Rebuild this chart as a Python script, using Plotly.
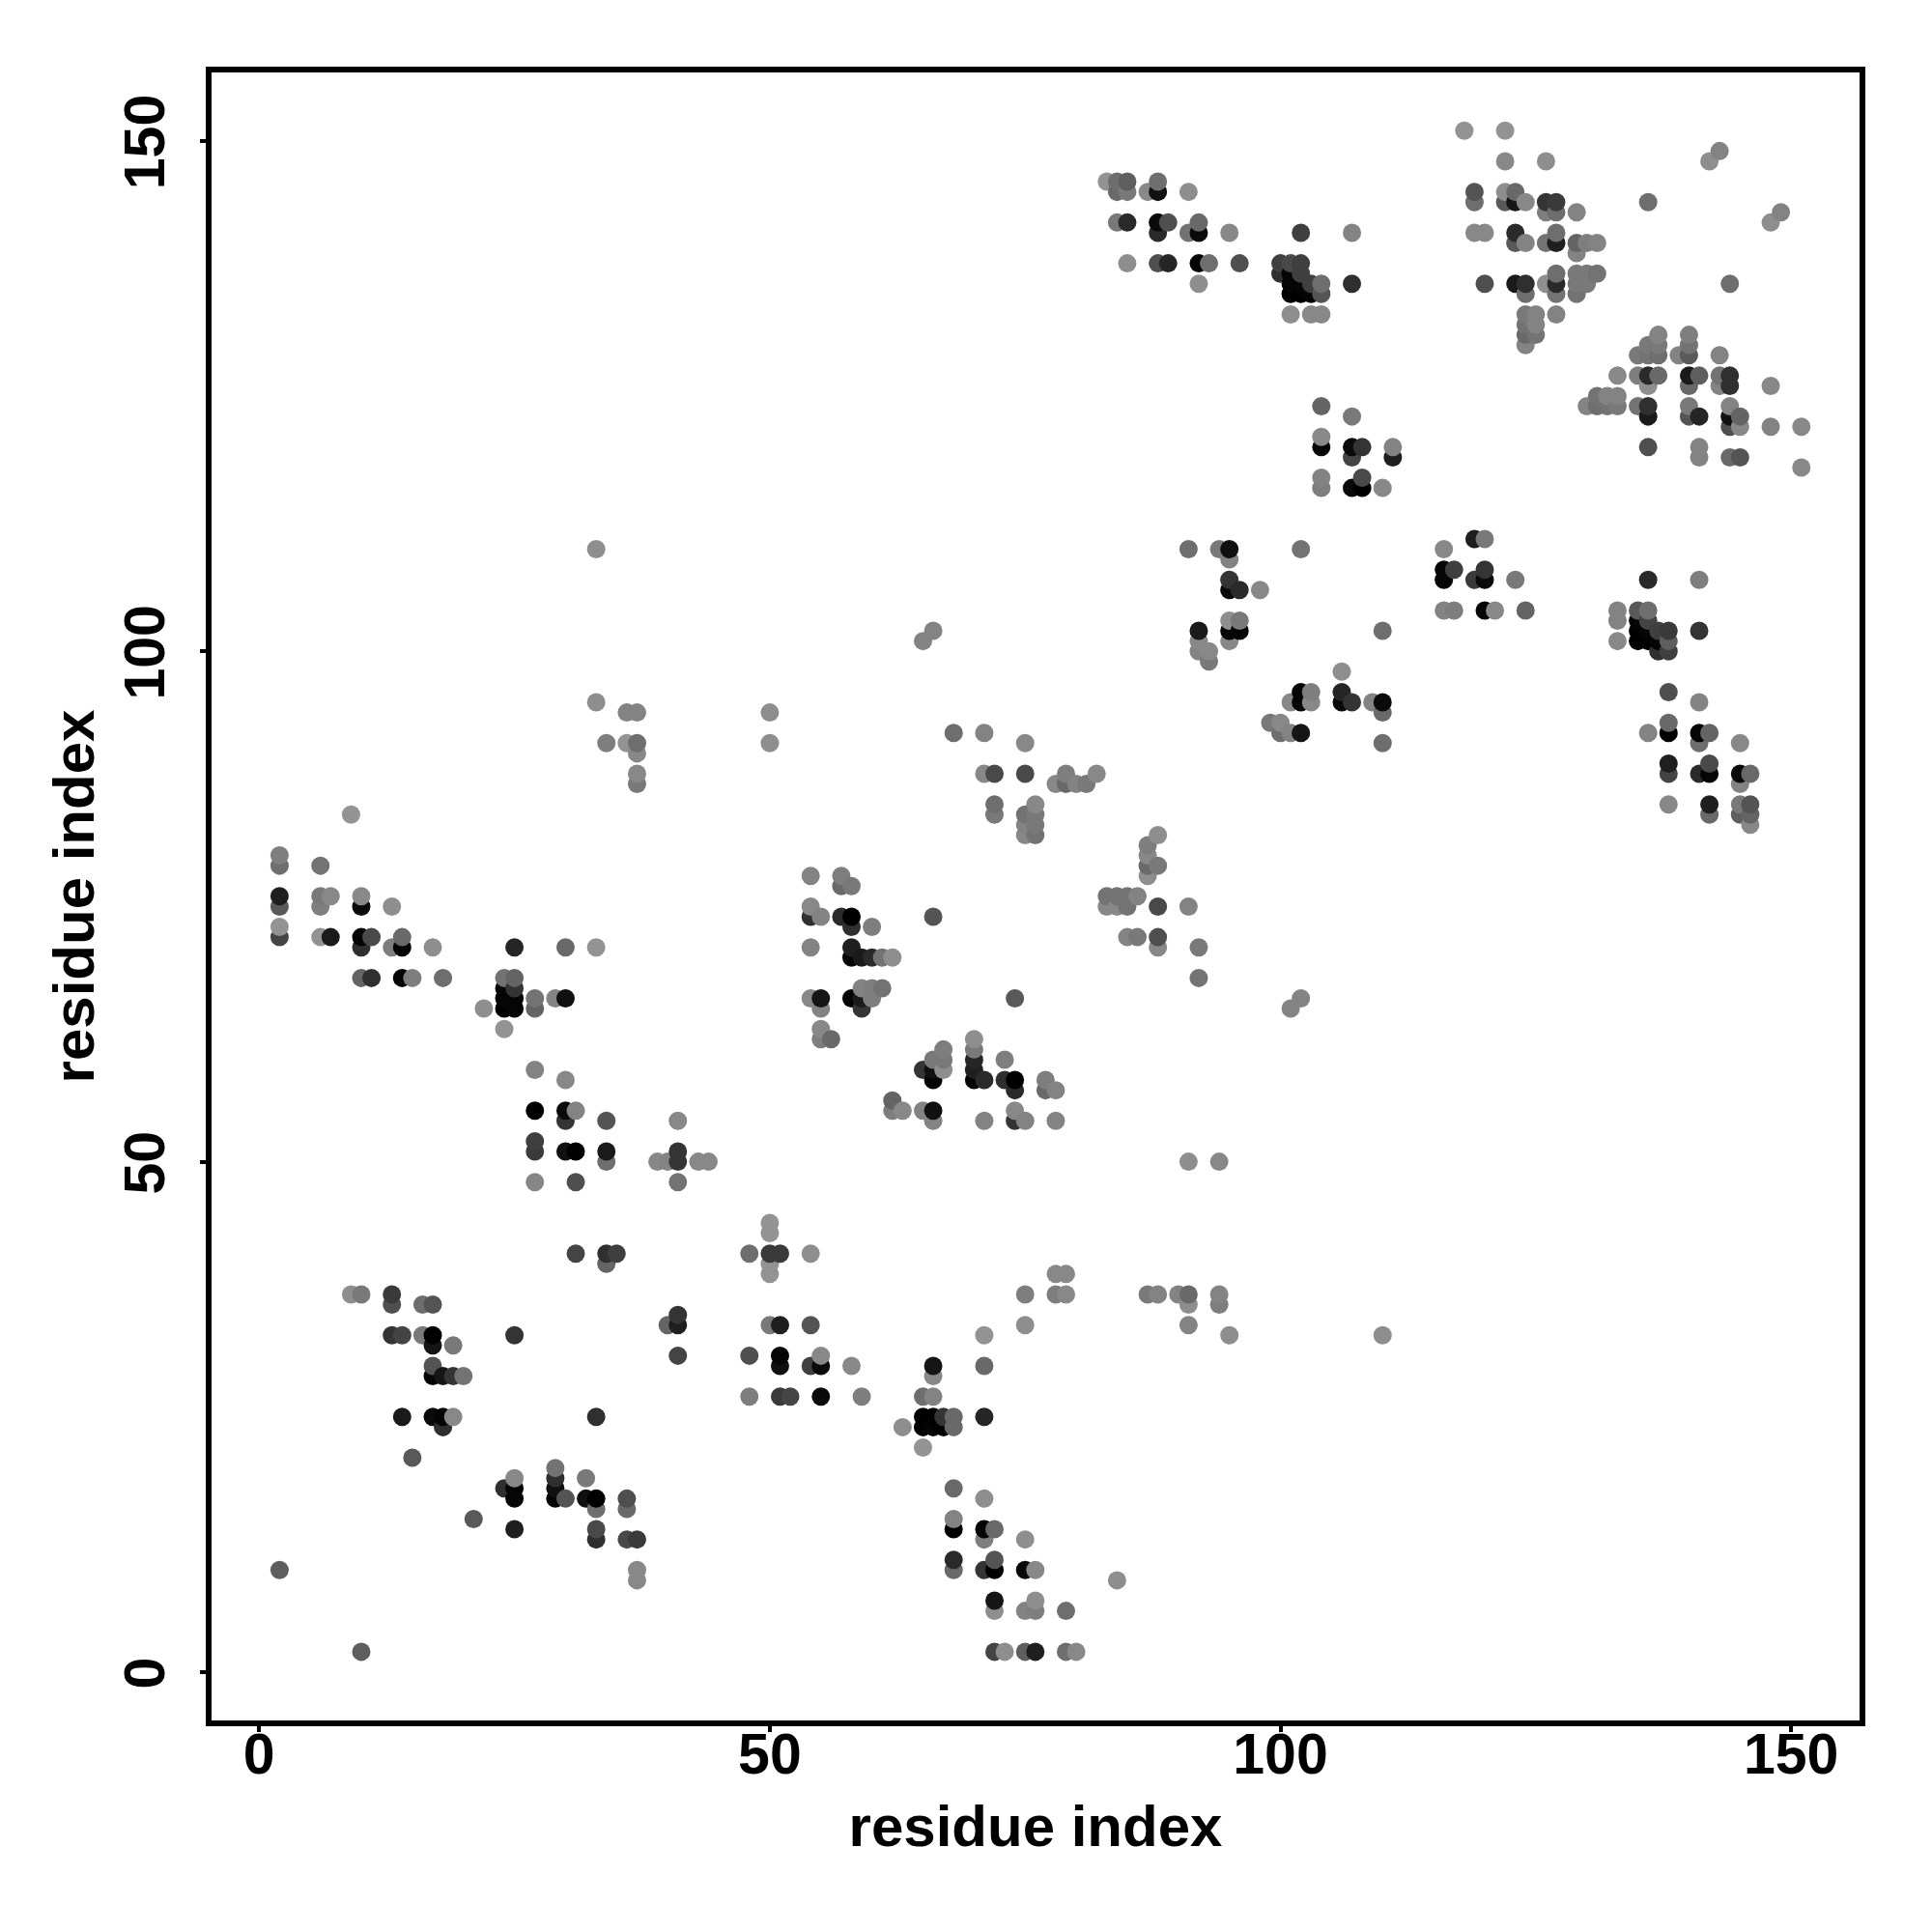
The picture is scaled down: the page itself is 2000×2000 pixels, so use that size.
import plotly.graph_objects as go

# contacts as (residue x, residue y, shade) where shade is a grey level 0-255
low_left = [(9,37,135),(10,37,115),(13,37,55),(13,36,75),(16,36,105),(17,36,80),(13,33,50),(14,33,65),(16,33,115),(17,33,0),(25,33,50),
 (17,32,20),(19,32,115),(17,30,80),(17,29,5),(18,29,20),(19,29,50),(20,29,110),(14,25,25),(17,25,10),(18,25,5),(19,25,130),(33,25,45),(18,24,45),
 (15,21,85),(25,19,130),(29,20,110),(29,19,45),(29,18,15),(29,17,5),(30,17,80),(24,18,45),(25,18,5),(25,17,5),(32,19,115),(32,17,15),(33,17,0),(33,16,105),
 (33,14,70),(33,13,45),(36,17,75),(36,16,100),(36,13,70),(37,13,55),(37,10,130),(37,9,130),(21,15,85),(25,14,30),(2,10,90),(10,2,90)]
mid_low = [(27,48,128),(31,48,75),(41,48,110),(31,41,65),(34,41,45),(35,41,60),(34,40,95),(48,41,105),(50,41,55),(51,41,55),(54,41,135),
 (50,44,140),(50,43,140),(50,40,140),(50,39,140),(41,35,50),(40,34,95),(41,34,30),(41,31,65),(48,31,75),(51,31,5),(51,30,15),(50,34,115),(51,34,30),(54,34,80),
 (54,30,60),(55,31,130),(55,30,10),(58,30,130),(48,27,120),(51,27,55),(52,27,65),(55,27,10),(59,27,120)]
centre_low = [(66,30,20),(66,29,130),(65,27,105),(66,27,125),(65,25,0),(66,25,0),(67,25,50),(68,25,100),(63,24,135),(65,24,0),(66,24,5),(67,24,0),(68,24,100),
 (65,22,140),(71,25,35),(71,30,100),(71,33,140),(75,34,135),(75,37,120),(78,37,120),(79,37,130),(78,39,130),(79,39,130),(87,37,115),(88,37,125),(90,37,125),(91,37,100),
 (91,36,135),(94,37,125),(94,36,120),(91,34,125),(95,33,135),(91,50,135),(94,50,130),(110,33,135)]
bottom = [(68,18,100),(71,17,135),(68,15,125),(68,14,0),(71,14,5),(72,14,100),(71,13,120),(75,13,135),(68,11,40),(68,10,100),(72,11,80),(71,10,50),(72,10,0),(75,10,10),(76,10,130),
 (84,9,135),(72,7,20),(72,6,135),(75,6,125),(76,7,135),(76,6,120),(79,6,105),(72,2,65),(73,2,135),(75,2,90),(76,2,30),(79,2,105),(80,2,130)]
mid_left = [(33,95,135),(36,94,125),(37,94,125),(34,91,120),(36,91,140),(37,91,105),(37,90,130),(37,88,130),(37,87,115),(50,94,135),(50,91,135),(9,84,140),
 (2,80,120),(2,79,105),(6,79,110),(2,76,30),(2,75,85),(6,76,115),(7,76,130),(6,75,120),(10,76,130),(10,75,10),(13,75,135),(2,73,140),(2,72,65),(6,72,140),(7,72,25),
 (10,72,5),(11,72,70),(10,71,45),(13,71,120),(14,72,100),(14,71,5),(17,71,135),(25,71,35),(30,71,100),(33,71,140),(10,68,95),(11,68,45),(14,68,5),(15,68,120),(18,68,105),
 (24,68,110),(25,68,95),(24,67,5),(25,67,50),(24,66,5),(25,66,5),(24,65,0),(25,65,5),(27,66,110),(27,65,95),(22,65,135),(24,63,140),(29,66,125),(30,66,15),
 (27,59,125),(30,58,130),(27,55,0),(30,55,10),(31,55,125),(30,54,50),(34,54,80),(41,54,130),(27,52,60),(27,51,55),(30,51,15),(31,51,0),(34,51,25),(34,50,105),
 (39,50,130),(40,50,125),(41,51,50),(41,50,50),(43,50,130),(44,50,130),(33,110,135)]
mid_right = [(68,92,105),(71,92,125),(75,91,130),(71,88,130),(72,88,70),(75,88,70),(78,87,130),(79,88,120),(79,87,100),(80,87,125),(81,87,115),(82,88,130),
 (72,85,105),(72,84,115),(76,85,130),(75,84,110),(76,84,115),(75,83,125),(76,83,115),(75,82,130),(76,82,110),(88,82,135),(87,81,120),(87,80,130),(87,79,100),(88,79,115),(87,78,135),
 (83,76,110),(84,76,110),(85,76,110),(86,76,125),(83,75,130),(84,75,130),(85,75,110),(88,75,70),(91,75,125),(85,72,125),(86,72,115),(88,72,75),(88,71,130),(92,71,115),(92,68,110),
 (54,78,125),(57,78,120),(57,77,100),(58,77,115),(54,75,130),(54,74,45),(55,74,125),(57,74,40),(58,74,0),(58,73,45),(60,73,120),(66,74,80),
 (54,71,125),(58,71,30),(58,70,5),(59,70,25),(60,70,40),(61,70,110),(62,70,135),(54,66,130),(55,66,20),(55,65,125),(58,66,5),(59,66,25),(59,65,50),(59,67,125),(60,67,120),(61,67,110),(60,66,120),
 (55,63,130),(55,62,120),(56,62,100),(74,66,85),(67,61,120),(66,60,115),(67,60,115),(65,59,50),(66,59,15),(67,59,135),(66,58,5),
 (70,62,135),(70,61,115),(70,60,35),(70,59,30),(70,58,5),(71,58,40),(73,60,120),(73,58,45),(74,58,0),(74,57,40),(77,58,120),(77,57,100),(78,57,125),
 (62,56,95),(62,55,120),(63,55,130),(65,55,125),(66,55,15),(66,54,125),(71,54,125),(74,55,130),(74,54,50),(75,54,125),(78,54,125),(65,101,125),(66,102,125),(101,65,125),(102,66,125)]
upper_mid = [(83,146,140),(84,146,105),(85,146,90),(84,145,100),(85,145,115),(87,145,130),(88,146,105),(88,145,15),(91,145,135),(84,142,115),(85,142,40),(88,142,10),(89,142,75),(88,141,40),
 (91,141,110),(92,142,100),(92,141,10),(95,141,130),(102,141,60),(107,141,125),(85,138,135),(88,138,75),(89,138,35),(92,138,5),(93,138,105),(96,138,75),(92,136,135),
 (100,138,60),(101,138,70),(102,138,60),(100,137,45),(101,137,5),(102,137,60),(101,136,5),(102,136,5),(103,136,60),(104,136,105),(101,135,0),(102,135,0),(103,135,5),(104,135,80),(107,136,45),
 (101,133,135),(103,133,130),(104,133,130),(104,124,95),(107,123,115),(104,121,130),(104,120,5),(107,120,10),(108,120,50),(107,119,65),(111,120,125),(111,119,30),
 (104,117,125),(104,116,120),(108,117,70),(107,116,10),(108,116,0),(110,116,130)]
top_right = [(118,151,140),(122,151,140),(122,148,130),(126,148,135),(143,149,125),(142,148,135),(149,143,125),(148,142,135),(119,145,80),(119,144,105),(122,145,135),(123,145,100),(122,144,85),(123,144,20),(124,144,130),
 (126,144,50),(127,144,55),(126,143,120),(127,143,105),(129,143,125),(136,144,105),(119,141,130),(120,141,130),(123,141,40),(123,140,85),(124,140,125),(126,140,110),(127,141,105),(127,140,30),(129,140,95),(130,140,120),(131,140,125),(129,139,125),
 (120,136,75),(123,136,25),(124,136,45),(124,135,105),(126,136,135),(127,137,105),(127,136,40),(127,135,110),(127,133,125),(129,137,115),(130,137,115),(131,137,110),(129,136,115),(130,136,115),(129,135,110),(144,136,105),
 (124,133,115),(125,133,125),(124,132,110),(125,132,125),(124,131,100),(125,131,110),(124,130,125),
 (137,131,125),(136,130,115),(137,130,115),(135,129,115),(136,129,110),(137,129,105),(140,131,120),(140,130,110),(139,129,125),(140,129,85),(143,129,125),
 (133,127,130),(135,127,120),(136,127,40),(137,127,100),(136,126,135),(140,127,25),(141,127,90),(140,126,100),(143,127,110),(144,127,45),(143,126,125),(144,126,45),(148,126,130),
 (130,124,125),(131,125,110),(132,125,125),(133,125,125),(131,124,105),(132,124,110),(133,124,115),(135,124,110),(136,124,45),(136,123,25),
 (140,124,115),(140,123,80),(141,123,35),(144,124,125),(144,123,15),(145,123,95),(144,122,75),(145,122,130),(148,122,125),(151,122,130),
 (136,120,75),(141,120,125),(141,119,125),(144,119,100),(145,119,80),(151,118,130)]
centre_right = [(91,110,105),(94,110,115),(95,110,15),(95,109,125),(102,110,110),(95,107,50),(95,106,10),(96,106,40),(98,106,130),(95,103,135),(96,103,115),(92,102,25),(95,102,5),(96,102,5),(95,101,130),(92,101,130),
 (92,100,125),(93,100,130),(93,99,115),(110,102,105),(106,98,135),(102,96,5),(103,96,120),(101,95,130),(102,95,5),(103,95,130),(106,96,35),(106,95,10),(107,95,50),(109,95,125),(110,95,10),(110,94,100),(110,91,105),
 (99,93,115),(100,93,130),(100,92,105),(101,92,125),(102,92,20),(116,110,130),(119,111,30),(120,111,115),(116,108,5),(117,108,60),(116,107,5),(119,107,55),(120,108,50),(120,107,10),(123,107,115),
 (116,104,125),(117,104,120),(120,104,5),(121,104,130),(124,104,95)]
lower_right = [(136,107,40),(141,107,120),(133,104,125),(133,103,125),(133,101,130),(135,104,85),(136,104,105),(135,103,5),(136,103,65),(135,102,0),(136,102,5),(137,102,60),(138,102,55),(135,101,0),(136,101,0),(137,101,5),(138,101,90),
 (137,100,45),(138,100,60),(141,102,50),(138,96,75),(141,95,125),(138,93,100),(136,92,125),(138,92,0),(141,92,5),(142,92,95),(141,91,105),(145,91,130),
 (138,89,30),(138,88,65),(142,89,70),(141,88,40),(142,88,5),(145,88,10),(146,88,100),(145,87,125),(138,85,130),(142,85,30),(142,84,100),(145,85,115),(146,85,80),(145,84,90),(146,84,95),(146,83,130)]

contacts = sorted(low_left + mid_low + centre_low + bottom + mid_left + mid_right + upper_mid + top_right + centre_right + lower_right)
res_x = [c[0] for c in contacts]
res_y = [c[1] for c in contacts]
shade = [c[2] for c in contacts]

tick_values = [0, 50, 100, 150]
FONT = "Liberation Sans, Arial, sans-serif"

fig = go.Figure(go.Scatter(
    x=res_x, y=res_y, mode="markers",
    marker=dict(size=19, color=shade, cmin=0, cmax=243,
                colorscale=[[0, "rgb(0,0,0)"], [1, "rgb(255,255,255)"]],
                showscale=False, line=dict(width=0)),
))
axis = dict(tickmode="array", tickvals=tick_values, ticks="outside", ticklen=6, tickwidth=4,
            tickcolor="black", showline=True, linewidth=6, linecolor="black", mirror=True,
            showgrid=False, zeroline=False,
            tickfont=dict(family=FONT, size=59, color="black", weight="bold"))
xaxis = dict(axis); xaxis.update(range=[-4.66, 156.7], ticklabelstandoff=-28, title=dict(text="<b>residue index</b>", font=dict(family=FONT, size=60, color="black"), standoff=23))
yaxis = dict(axis); yaxis.update(range=[-4.73, 156.7], ticklabelstandoff=13, ticklabelshift=10, tickangle=-90, title=dict(text="<b>residue index</b>", font=dict(family=FONT, size=60, color="black"), standoff=2))
fig.update_layout(width=1992, height=1992, margin=dict(l=211, r=75, t=67, b=219, autoexpand=False),
                  paper_bgcolor="white", plot_bgcolor="white", showlegend=False, xaxis=xaxis, yaxis=yaxis)
fig.write_html("out.html")
